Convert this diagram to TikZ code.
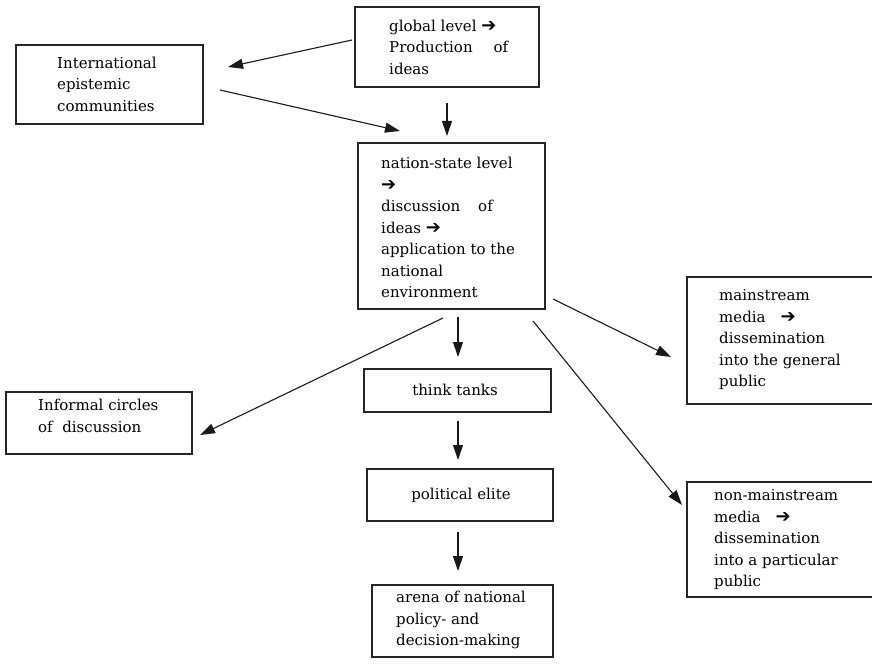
\documentclass[tikz,border=0pt]{standalone}
\usepackage{fontspec}
\setmainfont{DejaVu Serif}
\newfontfamily\dvfont{DejaVu Sans}
\usetikzlibrary{arrows.meta}
\newcommand\rarr{{\dvfont\fontsize{18}{18}\selectfont ➔}}
\begin{document}
\begin{tikzpicture}[x=1pt,y=-1pt,
  box/.style={draw=black!85,line width=1.3pt,inner sep=0pt,minimum width=#1},
  txt/.style={align=left,inner sep=0pt,anchor=west,font=\fontsize{15}{21.5}\selectfont},
  ctxt/.style={align=center,inner sep=0pt,font=\fontsize{15}{21.5}\selectfont},
  arr/.style={draw=black!90,line width=1.1pt,-{Triangle[length=15pt,width=10pt]}}]
\useasboundingbox (0,0) rectangle (872,666);
\clip (0,0) rectangle (872,666);
% boxes
\node[box=184,minimum height=80] (glob) at (447,47) {};
\node[txt] (globt) at (389,47) {global level \rarr\\Production\hspace{1.4em}of\\ideas};
\node[box=187,minimum height=79] (intl) at (109.5,84.5) {};
\node[txt] (intlt) at (57,84) {International\\epistemic\\communities};
\node[box=187,minimum height=166] (nat) at (451.5,226) {};
\node[txt] (natt) at (381,227.5) {nation-state level\\\rarr\\discussion\hspace{1.2em}of\\ideas \rarr\\application to the\\national\\environment};
\node[box=200,minimum height=127] (main) at (787,340.5) {};
\node[txt] (maint) at (719,340) {mainstream\\media\hspace{1em}\rarr\\dissemination\\into the general\\public};
\node[box=200,minimum height=115] (nonm) at (787,539.5) {};
\node[txt] (nonmt) at (714,540) {non-mainstream\\media\hspace{1em}\rarr\\dissemination\\into a particular\\public};
\node[box=187,minimum height=43] (think) at (457.5,390.5) {};
\node[ctxt] (thinkt) at (455,390) {think tanks};
\node[box=186,minimum height=52] (pol) at (460,495) {};
\node[ctxt] (polt) at (461,495) {political elite};
\node[box=181,minimum height=72] (arena) at (462.5,621) {};
\node[txt] (arenat) at (396,620) {arena of national\\policy- and\\decision-making};
\node[box=186,minimum height=62] (inf) at (99,423) {};
\node[txt] (inft) at (38,416) {Informal circles\\of\ \ discussion};
% connector endpoints
\coordinate (a1s) at (352,40);  \coordinate (a1e) at (228,67);
\coordinate (a2s) at (220,90);  \coordinate (a2e) at (400,131);
\coordinate (a3s) at (447,103); \coordinate (a3e) at (447,136);
\coordinate (a4s) at (458,317); \coordinate (a4e) at (458,357);
\coordinate (a5s) at (458,421); \coordinate (a5e) at (458,460);
\coordinate (a6s) at (458,532); \coordinate (a6e) at (458,571);
\coordinate (a7s) at (443,318); \coordinate (a7e) at (200,435);
\coordinate (a8s) at (553,299); \coordinate (a8e) at (671,357);
\coordinate (a9s) at (533,321); \coordinate (a9e) at (682,505);
\draw[arr] (a1s) -- (a1e);
\draw[arr] (a2s) -- (a2e);
\draw[arr] (a3s) -- (a3e);
\draw[arr] (a4s) -- (a4e);
\draw[arr] (a5s) -- (a5e);
\draw[arr] (a6s) -- (a6e);
\draw[arr] (a7s) -- (a7e);
\draw[arr] (a8s) -- (a8e);
\draw[arr] (a9s) -- (a9e);
\end{tikzpicture}
\end{document}
